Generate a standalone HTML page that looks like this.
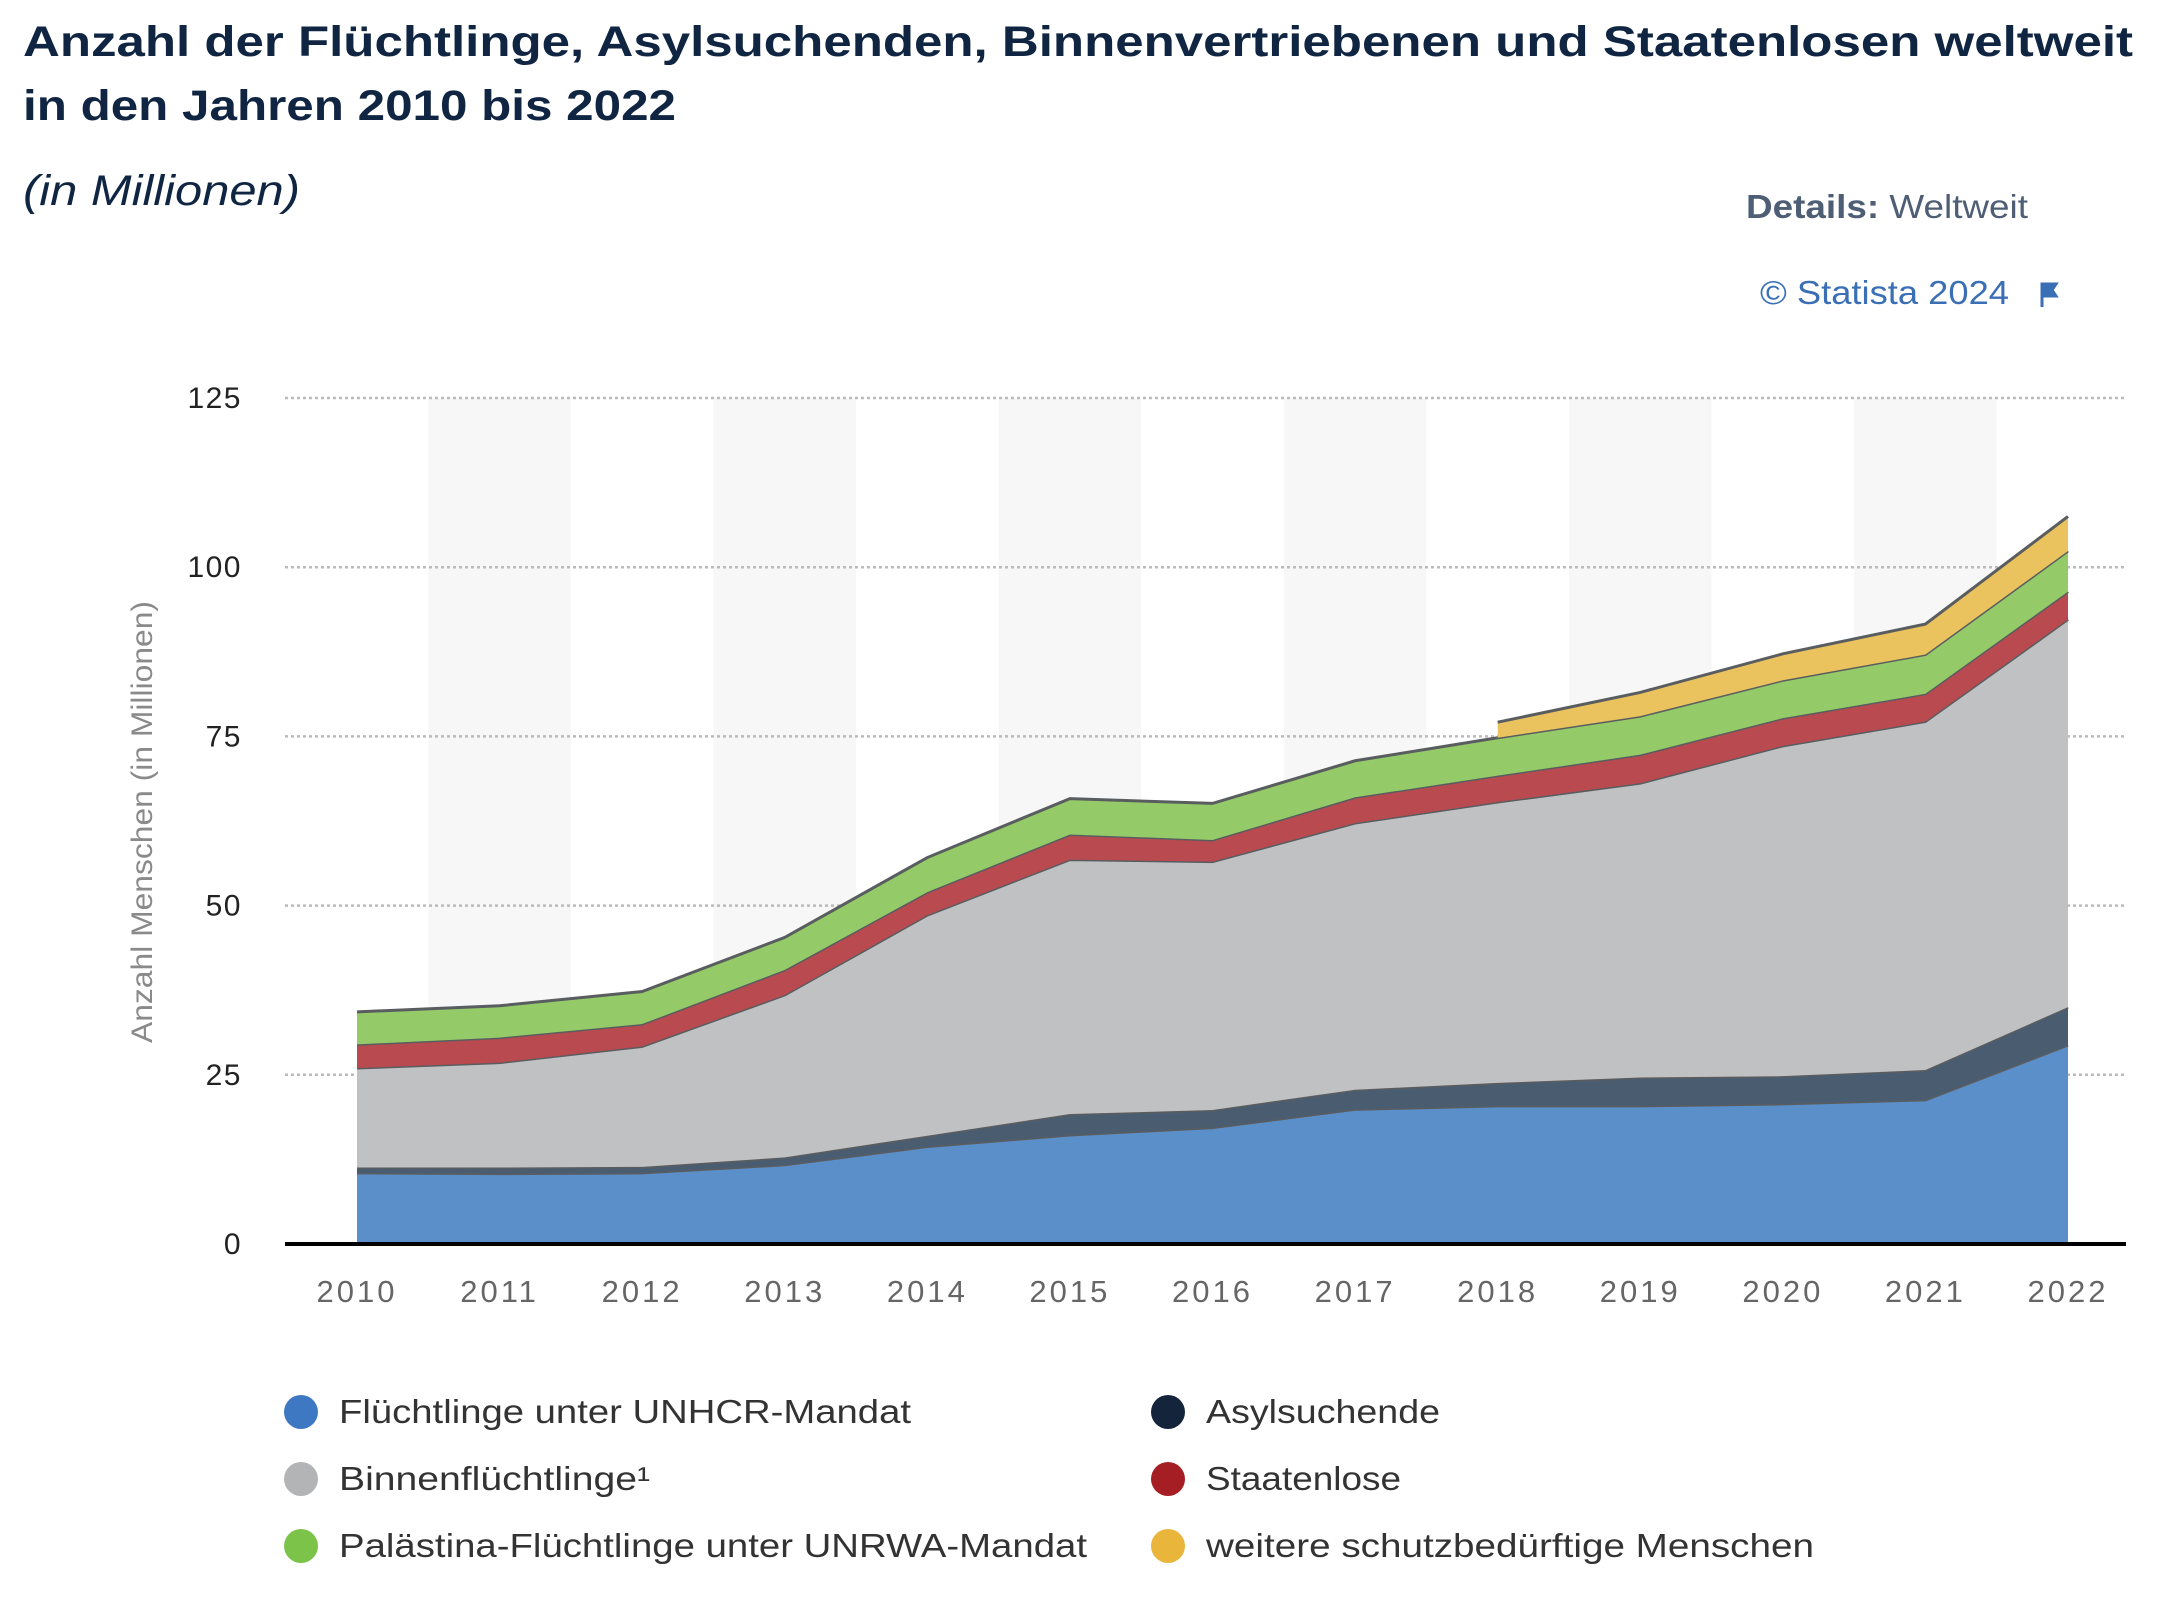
<!DOCTYPE html>
<html><head><meta charset="utf-8"><style>
body{margin:0;background:#fff;width:2164px;height:1616px;overflow:hidden;font-family:"Liberation Sans",sans-serif;}
</style></head><body>
<svg id="chart" width="2164" height="1616" xmlns="http://www.w3.org/2000/svg">
<text x="23" y="56" font-size="43" font-weight="bold" fill="#0f2542" textLength="2110" lengthAdjust="spacingAndGlyphs">Anzahl der Flüchtlinge, Asylsuchenden, Binnenvertriebenen und Staatenlosen weltweit</text>
<text x="23" y="120" font-size="43" font-weight="bold" fill="#0f2542" textLength="653" lengthAdjust="spacingAndGlyphs">in den Jahren 2010 bis 2022</text>
<text x="23" y="205" font-size="43" font-style="italic" fill="#0f2542" textLength="277" lengthAdjust="spacingAndGlyphs">(in Millionen)</text>
<text x="1746" y="218" font-size="33" fill="#4d5e75" textLength="282" lengthAdjust="spacingAndGlyphs"><tspan font-weight="bold">Details:</tspan> Weltweit</text>
<text x="1760" y="304" font-size="33" fill="#3a6fb5" textLength="249" lengthAdjust="spacingAndGlyphs">© Statista 2024</text>
<path d="M2042 283 v24 M2042 284 h14 l-4 6 4 6 h-14z" stroke="#3a6fb5" stroke-width="3" fill="#3a6fb5"/>
<g id="bands"></g><g id="grid"></g><g id="areas"></g><g id="axes"></g>
<text transform="translate(152,822) rotate(-90)" font-size="30" text-anchor="middle" fill="#8a8a8a" textLength="442" lengthAdjust="spacingAndGlyphs">Anzahl Menschen (in Millionen)</text>
<g id="legend"></g>
</svg>
<script>
const years=[2010,2011,2012,2013,2014,2015,2016,2017,2018,2019,2020,2021,2022];
const yTicks=[0,25,50,75,100,125];
const unhcr=[10.5,10.4,10.5,11.7,14.4,16.1,17.2,19.9,20.4,20.4,20.7,21.3,29.4];
const asyl=[0.8,0.9,0.9,1.1,1.6,3.1,2.6,2.9,3.4,4.2,4.1,4.4,5.6];
const binnen=[14.7,15.5,17.8,24.0,32.6,37.6,36.7,39.4,41.5,43.5,48.8,51.5,57.3];
const staatenlos=[3.5,3.7,3.3,3.7,3.4,3.7,3.2,3.8,3.9,4.2,4.1,4.1,4.1];
const unrwa=[4.8,4.7,4.8,4.8,5.1,5.3,5.4,5.4,5.6,5.7,5.6,5.8,6.0];
const weitere=[null,null,null,null,null,null,null,null,2.3,3.5,3.9,4.5,5.1];
const seriesNames=["Flüchtlinge unter UNHCR-Mandat","Asylsuchende","Binnenflüchtlinge¹","Staatenlose","Palästina-Flüchtlinge unter UNRWA-Mandat","weitere schutzbedürftige Menschen"];
const legendWidths=[572,234,311,195,748,608];
const NS="http://www.w3.org/2000/svg";
const X0=357,XS=(2068-357)/12,Y0=1244,YS=(1244-398)/125;
const xs=i=>X0+i*XS, ys=v=>Y0-v*YS;
function mk(t,a,p){const e=document.createElementNS(NS,t);for(const k in a)e.setAttribute(k,a[k]);p.appendChild(e);return e;}
const bands=document.getElementById('bands');
years.forEach((y,i)=>{if(i%2===1){const r=mk('rect',{x:xs(i)-XS/2,y:398,width:XS,height:Y0-398,fill:'#f7f7f7'},bands);

}});
const grid=document.getElementById('grid');
yTicks.forEach(t=>{if(t>0){const l=mk('line',{x1:285,x2:2126,y1:ys(t),y2:ys(t),stroke:'#bbb','stroke-width':2.5,'stroke-dasharray':'3 3'},grid);

}
const tx=mk('text',{x:242,y:ys(t)+10,'font-size':30,'text-anchor':'end',fill:'#222','letter-spacing':'1.5'},grid);tx.textContent=t;

});
const data=[unhcr,asyl,binnen,staatenlos,unrwa,weitere];
const colors=["#5b8fc9","#4a5d70","#bfc1c3","#b94a4f","#94cb68","#ebc35e"];
const legColors=["#3f78c2","#14253b","#b2b4b6","#a51e24","#7cc34a","#e9b53b"];
const areas=document.getElementById('areas');
let base=years.map(()=>0);
data.forEach((s,k)=>{const idx=years.map((_,i)=>i).filter(i=>s[i]!==null);
const top=idx.map(i=>base[i]+s[i]);
let d='M'+idx.map((i,j)=>xs(i)+','+ys(top[j])).join(' L');
d+=' L'+idx.slice().reverse().map(i=>xs(i)+','+ys(base[i])).join(' L')+'Z';
const p=mk('path',{d:d,fill:colors[k]},areas);


const ln=mk('path',{d:'M'+idx.map((i,j)=>xs(i)+','+ys(top[j])).join(' L'),fill:'none',stroke:'#5a5d60','stroke-width':3},areas);


idx.forEach((i,j)=>base[i]=top[j]);});
const axes=document.getElementById('axes');
const ax=mk('line',{x1:285,x2:2126,y1:Y0,y2:Y0,stroke:'#000','stroke-width':4},axes);


years.forEach((y,i)=>{const t=mk('text',{x:xs(i),y:1302,'font-size':31,'text-anchor':'middle',fill:'#666','letter-spacing':'3'},axes);t.textContent=y;

});
const leg=document.getElementById('legend');
const order=[0,1,2,3,4,5];
order.forEach((k,n)=>{const col=n%2,row=Math.floor(n/2);const cx=col?1168:301,cy=1412+row*67;
const g=mk('g',{},leg);


mk('circle',{cx:cx,cy:cy,r:17,fill:legColors[k]},g);
const t=mk('text',{x:cx+38,y:cy+11,'font-size':33,fill:'#333',textLength:legendWidths[k],lengthAdjust:'spacingAndGlyphs'},g);t.textContent=seriesNames[k];});
</script>
</body></html>
